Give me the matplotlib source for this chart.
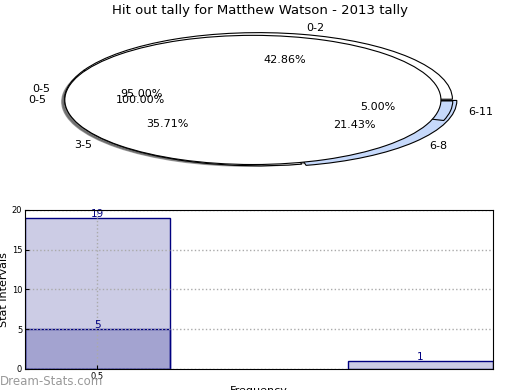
import numpy as np
import matplotlib
matplotlib.use('agg')
import matplotlib.pyplot as plt  # noqa

# pie data (three overlaid pies)
inner_labels = ['0-2', '3-5', '6-8']
inner_values = [6, 5, 3]
outer_labels = ['0-5', '6-11']
outer_values = [19, 1]
full_labels = ['0-5']
full_values = [5]

# bar data
bar_x = [0.0, 2.23]
bar_heights = [19, 1]
low_x = [0.0]
low_heights = [5]

fig = plt.figure(figsize=(5.2, 3.9), dpi=100)
fig.suptitle('Hit out tally for Matthew Watson - 2013 tally', fontsize=9.5, y=0.99)

# --- top: stretched pies
ax1 = fig.add_axes([0.0523, 0.545, 0.868, 0.3975])

wp = dict(edgecolor='black', linewidth=0.8)
tp = dict(fontsize=8)
sh = dict(ox=-0.012, oy=-0.02, shade=0.7)
blue = '#c6d9fb'

ax1.pie(inner_values, labels=inner_labels, colors=['white', 'white', blue],
        autopct='%.2f%%', radius=1.031, center=(0.03, 0.011), explode=[0, 0, 0.03],
        wedgeprops=wp, textprops=tp, frame=True)
ax1.pie(outer_values, labels=outer_labels, colors=['white', blue],
        autopct='%.2f%%', radius=0.979, center=(-0.015, 0.0), explode=[0, 0.1],
        shadow=sh, wedgeprops=wp, textprops=tp, frame=True)
ax1.pie(full_values, labels=full_labels, colors=['white'],
        autopct='%.2f%%', radius=1.0, center=(0.0, 0.0), shadow=sh,
        wedgeprops=wp, textprops=tp, frame=True)
ax1.set_aspect('auto')
ax1.set_xlim(-1.2, 1.2)
ax1.set_ylim(-1.2, 1.2)
ax1.axis('off')

# --- bottom: bars
ax2 = fig.add_axes([0.048, 0.054, 0.9, 0.408])
ax2.bar(bar_x, bar_heights, width=1.0, align='edge', color='navy', alpha=0.2)
ax2.bar(bar_x, bar_heights, width=1.0, align='edge', fill=False, edgecolor='navy', linewidth=1)
ax2.bar(low_x, low_heights, width=1.0, align='edge', color='navy', alpha=0.2)
ax2.bar(low_x, low_heights, width=1.0, align='edge', fill=False, edgecolor='navy', linewidth=1)

for x, h in zip(bar_x + low_x, bar_heights + low_heights):
    ax2.text(x + 0.5, h + 0.5, str(h), ha='center', va='center', color='navy', fontsize=7.5)

ax2.set_xlim(0, 3.23)
ax2.set_ylim(0, 20)
ax2.set_xticks([0.5])
ax2.set_xticklabels(['0.5'])
ax2.set_yticks([0, 5, 10, 15, 20])
ax2.tick_params(labelsize=6, direction='in', length=3, pad=2)
ax2.grid(True, color='#aaaaaa', linestyle=':', linewidth=1)
for sp in ax2.spines.values():
    sp.set_zorder(5)
ax2.set_ylabel('Stat Intervals', fontsize=8, labelpad=2)
ax2.set_xlabel('Frequency', fontsize=8, labelpad=4)

fig.text(0.0, 0.012, 'Dream-Stats.com', color='#999999', fontsize=8.5)

fig.savefig('out.png', dpi=100)
